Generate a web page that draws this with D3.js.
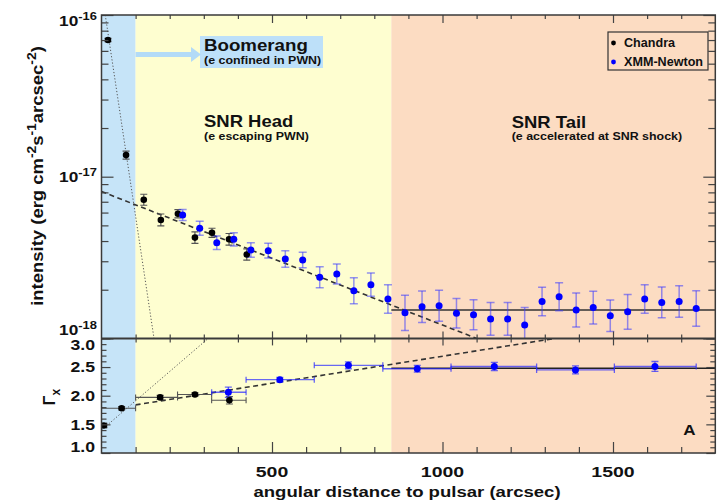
<!DOCTYPE html>
<meta charset="utf-8">
<style>
body { margin: 0; background: #fff; }
svg text { font-family: "Liberation Sans", Arial, Helvetica, sans-serif; font-weight: bold; fill: #111; }
</style>
<body>
<script src="https://d3js.org/d3.v7.min.js"></script>
<script>
// ---- values ----
// region edges along the x axis (arcsec): Boomerang | SNR head | SNR tail
var regionEdges = [0, 100, 850, 1800];

// top panel: surface brightness
var chandraDist = [19, 72, 124, 174, 224, 274, 324, 374, 426];
var chandraInt  = [7.0e-17, 1.36e-17, 7.2e-18, 5.4e-18, 5.9e-18, 4.2e-18, 4.5e-18, 4.1e-18, 3.3e-18];
var chandraErr  = [0.01, 0.025, 0.034, 0.037, 0.025, 0.035, 0.028, 0.036, 0.035]; // dex

var xmmDist = [238, 288, 338, 388, 438, 489, 539, 590, 640, 690, 740, 790, 840, 890, 940, 990,
               1041, 1091, 1141, 1191, 1241, 1292, 1342, 1392, 1442, 1492, 1543, 1593, 1643, 1694, 1744];
var xmmInt  = [5.8e-18, 4.8e-18, 3.9e-18, 4.1e-18, 3.52e-18, 3.49e-18, 3.1e-18, 3.05e-18, 2.39e-18, 2.5e-18,
               1.97e-18, 2.15e-18, 1.75e-18, 1.44e-18, 1.57e-18, 1.59e-18, 1.43e-18, 1.4e-18, 1.32e-18, 1.32e-18,
               1.21e-18, 1.69e-18, 1.81e-18, 1.5e-18, 1.55e-18, 1.38e-18, 1.46e-18, 1.75e-18, 1.67e-18, 1.69e-18, 1.53e-18];
var xmmErr  = [0.034, 0.043, 0.042, 0.041, 0.045, 0.045, 0.051, 0.048, 0.065, 0.062, 0.08, 0.072, 0.088, 0.109,
               0.097, 0.096, 0.091, 0.093, 0.101, 0.101, 0.109, 0.088, 0.087, 0.105, 0.101, 0.097, 0.107, 0.088,
               0.095, 0.097, 0.11];

// fitted models in the top panel (end points)
var fitBoomerang = [[11, 1e-16], [154, 1e-18]];
var fitHead      = [[0, 8.1e-18], [1100, 1e-18]];
var fitTail      = [[850, 1.5e-18], [1800, 1.5e-18]];

// bottom panel: photon index
var chandraGDist = [7, 59, 172, 274, 375];
var chandraGBin  = [[0, 15], [0, 100], [100, 223], [223, 323], [323, 424]];
var chandraG     = [1.48, 1.78, 1.97, 2.02, 1.92];
var chandraGErr  = [0.03, 0.03, 0.035, 0.03, 0.064];

var xmmGDist = [372, 523, 724, 926, 1152, 1390, 1623];
var xmmGBin  = [[323, 424], [424, 624], [624, 825], [825, 1025], [1025, 1276], [1276, 1504], [1504, 1744]];
var xmmG     = [2.06, 2.28, 2.53, 2.47, 2.51, 2.45, 2.51];
var xmmGErr  = [0.09, 0.04, 0.06, 0.06, 0.07, 0.07, 0.087];

var gFitBoomerang = [[0, 1.40], [313, 3.0]];
var gFitHead      = [[100, 1.84], [1330, 3.0]];
var gFitTail      = [[850, 2.48], [1800, 2.48]];

var xTickLabels = [500, 1000, 1500];
var yTickLabels = [1e-16, 1e-17, 1e-18];
var gTickLabels = [3.0, 2.5, 2.0, 1.5, 1.0];

// ---- layout ----
var L = 101.5, R = 715.3, T = 15, MID = 338.4, B = 453;

var x  = d3.scaleLinear().domain([0, 1800]).range([L, R]);
var yI = d3.scaleLog().domain([1e-18, 1e-16]).range([MID, T]);
var yG = d3.scaleLinear().domain([1, 3]).range([B, MID]);

var svg = d3.select("body").append("svg").attr("width", 718).attr("height", 501);

var defs = svg.append("defs");
defs.append("clipPath").attr("id", "clipTop").append("rect")
    .attr("x", L).attr("y", T).attr("width", R - L).attr("height", MID - T);
defs.append("clipPath").attr("id", "clipBot").append("rect")
    .attr("x", L).attr("y", MID).attr("width", R - L).attr("height", B - MID);

// text helper: the figure's lettering is a bit wider than Arial, so stretch it horizontally
function addText(g, px, py, str, size, sx, anchor, rot) {
  var t = g.append("text")
      .attr("transform", "translate(" + px + "," + py + ")" + (rot ? " rotate(" + rot + ")" : "") + " scale(" + sx + ",1)")
      .attr("text-anchor", anchor || "start")
      .style("font-size", size + "px");
  var shift = 0;
  str.split(/(\^\{[^}]*\}|_\{[^}]*\})/).forEach(function(p) {
    if (!p) return;
    var target = 0, txt = p, fs = size;
    if (p[0] == "^") { target = -0.4 * size; txt = p.slice(2, -1); fs = size * 0.75; }
    else if (p[0] == "_") { target = 0.3 * size; txt = p.slice(2, -1); fs = size * 0.75; }
    t.append("tspan").attr("dy", target - shift).style("font-size", fs + "px").text(txt);
    shift = target;
  });
  return t;
}

// background regions
var regionFill = ["#c6e4f8", "#fefed0", "#fcdcc2"];
svg.selectAll("rect.region").data(d3.range(3)).enter().append("rect")
    .attr("class", "region")
    .attr("x", function(i) { return x(regionEdges[i]); })
    .attr("y", T)
    .attr("width", function(i) { return x(regionEdges[i + 1]) - x(regionEdges[i]); })
    .attr("height", B - T)
    .attr("fill", function(i) { return regionFill[i]; });

// Boomerang label box + arrow
svg.append("rect").attr("x", 200).attr("y", 36).attr("width", 123).attr("height", 32).attr("fill", "#bde0f9");
svg.append("line").attr("x1", x(regionEdges[1])).attr("x2", 193).attr("y1", 54.5).attr("y2", 54.5)
    .attr("stroke", "#b3dbf7").attr("stroke-width", 5);
svg.append("path").attr("d", "M191,47 L201,54.5 L191,62 Z").attr("fill", "#b3dbf7");

addText(svg, 204, 50.7, "Boomerang", 17, 1.1);
addText(svg, 204, 64.3, "(e confined in PWN)", 11, 1.13);
addText(svg, 204, 126.7, "SNR Head", 16.5, 1.12);
addText(svg, 204, 139.8, "(e escaping PWN)", 11, 1.13);
addText(svg, 511.7, 127.5, "SNR Tail", 16.5, 1.12);
addText(svg, 511.7, 140.3, "(e accelerated at SNR shock)", 11, 1.13);

// ---- top panel ----
var topG = svg.append("g").attr("clip-path", "url(#clipTop)");
var lineI = d3.line().x(function(d) { return x(d[0]); }).y(function(d) { return yI(d[1]); });

topG.append("path").datum(fitBoomerang).attr("d", lineI).attr("fill", "none")
    .attr("stroke", "#555").attr("stroke-width", 1).attr("stroke-dasharray", "1.2,2");
topG.append("path").datum(fitHead).attr("d", lineI).attr("fill", "none")
    .attr("stroke", "#333").attr("stroke-width", 1.6).attr("stroke-dasharray", "5,3.5");
topG.append("path").datum(fitTail).attr("d", lineI).attr("fill", "none")
    .attr("stroke", "#333").attr("stroke-width", 1.4);

function vErrLog(g, xs, ys, es, color, width, cap) {
  xs.forEach(function(d, i) {
    var cx = x(d), y1 = yI(ys[i] * Math.pow(10, es[i])), y2 = yI(ys[i] / Math.pow(10, es[i]));
    g.append("line").attr("x1", cx).attr("x2", cx).attr("y1", y1).attr("y2", y2)
        .attr("stroke", color).attr("stroke-width", width);
    [y1, y2].forEach(function(yy) {
      g.append("line").attr("x1", cx - cap).attr("x2", cx + cap).attr("y1", yy).attr("y2", yy)
          .attr("stroke", color).attr("stroke-width", width);
    });
  });
}

vErrLog(topG, chandraDist, chandraInt, chandraErr, "#555", 1.2, 3.5);
vErrLog(topG, xmmDist, xmmInt, xmmErr, "rgba(60,60,255,0.55)", 1.5, 4);

topG.selectAll("circle.ch").data(chandraDist).enter().append("circle")
    .attr("cx", function(d) { return x(d); })
    .attr("cy", function(d, i) { return yI(chandraInt[i]); })
    .attr("r", 3.3).attr("fill", "#000");
topG.selectAll("circle.xmm").data(xmmDist).enter().append("circle")
    .attr("cx", function(d) { return x(d); })
    .attr("cy", function(d, i) { return yI(xmmInt[i]); })
    .attr("r", 3.5).attr("fill", "#0000ff");

// ---- bottom panel ----
var botG = svg.append("g").attr("clip-path", "url(#clipBot)");
var lineG = d3.line().x(function(d) { return x(d[0]); }).y(function(d) { return yG(d[1]); });

botG.append("path").datum(gFitBoomerang).attr("d", lineG).attr("fill", "none")
    .attr("stroke", "#555").attr("stroke-width", 1).attr("stroke-dasharray", "1.2,2");
botG.append("path").datum(gFitHead).attr("d", lineG).attr("fill", "none")
    .attr("stroke", "#333").attr("stroke-width", 1.6).attr("stroke-dasharray", "5,3.5");
botG.append("path").datum(gFitTail).attr("d", lineG).attr("fill", "none")
    .attr("stroke", "#222").attr("stroke-width", 1.4);

function errG(g, xs, bins, ys, es, color, width) {
  xs.forEach(function(d, i) {
    var cx = x(d), cy = yG(ys[i]), xa = x(bins[i][0]), xb = x(bins[i][1]);
    var ya = yG(ys[i] + es[i]), yb = yG(ys[i] - es[i]);
    g.append("line").attr("x1", xa).attr("x2", xb).attr("y1", cy).attr("y2", cy)
        .attr("stroke", color).attr("stroke-width", width);
    [xa, xb].forEach(function(xx) {
      g.append("line").attr("x1", xx).attr("x2", xx).attr("y1", cy - 3).attr("y2", cy + 3)
          .attr("stroke", color).attr("stroke-width", width);
    });
    g.append("line").attr("x1", cx).attr("x2", cx).attr("y1", ya).attr("y2", yb)
        .attr("stroke", color).attr("stroke-width", width);
    [ya, yb].forEach(function(yy) {
      g.append("line").attr("x1", cx - 3.5).attr("x2", cx + 3.5).attr("y1", yy).attr("y2", yy)
          .attr("stroke", color).attr("stroke-width", width);
    });
  });
}

errG(botG, chandraGDist, chandraGBin, chandraG, chandraGErr, "#555", 1.1);
errG(botG, xmmGDist, xmmGBin, xmmG, xmmGErr, "rgba(40,40,255,0.7)", 1.3);

botG.selectAll("circle.ch").data(chandraGDist).enter().append("circle")
    .attr("cx", function(d) { return x(d); })
    .attr("cy", function(d, i) { return yG(chandraG[i]); })
    .attr("r", 3.3).attr("fill", "#000");
botG.selectAll("circle.xmm").data(xmmGDist).enter().append("circle")
    .attr("cx", function(d) { return x(d); })
    .attr("cy", function(d, i) { return yG(xmmG[i]); })
    .attr("r", 3.5).attr("fill", "#0000ff");

// ---- ticks ----
function ticks(axisFn, scale, vals, size, tr) {
  var g = svg.append("g").attr("transform", tr)
      .call(axisFn(scale).tickValues(vals).tickSize(size).tickFormat(""));
  g.select(".domain").remove();
  g.selectAll("line").attr("stroke", "#444").attr("stroke-width", 1.2);
}

var xMinor = d3.range(100, 1800, 100).filter(function(v) { return v % 500; });
var xMajor = xTickLabels;
ticks(d3.axisBottom, x, xMinor, 4, "translate(0," + T + ")");
ticks(d3.axisBottom, x, xMajor, 8, "translate(0," + T + ")");
ticks(d3.axisBottom, x, xMinor, 4, "translate(0," + MID + ")");
ticks(d3.axisTop, x, xMinor, 4, "translate(0," + MID + ")");
ticks(d3.axisBottom, x, xMajor, 7, "translate(0," + MID + ")");
ticks(d3.axisTop, x, xMajor, 7, "translate(0," + MID + ")");
ticks(d3.axisTop, x, xMinor, 6, "translate(0," + B + ")");
ticks(d3.axisTop, x, xMajor, 11, "translate(0," + B + ")");

var logMinor = [];
[1e-18, 1e-17].forEach(function(dec) { d3.range(2, 10).forEach(function(k) { logMinor.push(k * dec); }); });
ticks(d3.axisRight, yI, logMinor, 7, "translate(" + L + ",0)");
ticks(d3.axisRight, yI, yTickLabels, 12, "translate(" + L + ",0)");
ticks(d3.axisLeft, yI, logMinor, 7, "translate(" + R + ",0)");
ticks(d3.axisLeft, yI, yTickLabels, 12, "translate(" + R + ",0)");

var gMinor = d3.range(11, 30).filter(function(k) { return k % 5; }).map(function(k) { return k / 10; });
ticks(d3.axisRight, yG, gMinor, 5, "translate(" + L + ",0)");
ticks(d3.axisRight, yG, gTickLabels, 9, "translate(" + L + ",0)");
ticks(d3.axisLeft, yG, gMinor, 5, "translate(" + R + ",0)");
ticks(d3.axisLeft, yG, gTickLabels, 9, "translate(" + R + ",0)");

// frame
svg.append("rect").attr("x", L).attr("y", T).attr("width", R - L).attr("height", B - T)
    .attr("fill", "none").attr("stroke", "#3a3a3a").attr("stroke-width", 1.5);
svg.append("line").attr("x1", L).attr("x2", R).attr("y1", MID).attr("y2", MID)
    .attr("stroke", "#3a3a3a").attr("stroke-width", 2);

// ---- tick labels ----
xTickLabels.forEach(function(v) { addText(svg, x(v), 477, String(v), 15, 1.3, "middle"); });

var yLabBase = [26, 182, 335];
yTickLabels.forEach(function(v, i) {
  addText(svg, 97, yLabBase[i], "10^{" + Math.round(Math.log10(v)) + "}", 15, 1.15, "end");
});

gTickLabels.forEach(function(v) {
  var by = Math.max(350, Math.min(452, yG(v) + 5.3));
  addText(svg, 95, by, v.toFixed(1), 14.5, 1.22, "end");
});

// axis titles
addText(svg, 407, 496.7, "angular distance to pulsar (arcsec)", 14.5, 1.28, "middle");
addText(svg, 43, 176, "intensity (erg cm^{-2}s^{-1}arcsec^{-2})", 16.5, 1.12, "middle", -90);
addText(svg, 55, 397, "\u0393_{x}", 16, 1.0, "middle", -90);
addText(svg, 683.3, 435, "A", 15.5, 1.1);

// ---- legend ----
svg.append("rect").attr("x", 608).attr("y", 32).attr("width", 100).attr("height", 38)
    .attr("fill", "none").attr("stroke", "#333").attr("stroke-width", 1.2);
svg.append("circle").attr("cx", 613.5).attr("cy", 43).attr("r", 2.4).attr("fill", "#000");
svg.append("circle").attr("cx", 613.5).attr("cy", 62).attr("r", 2.4).attr("fill", "#0000ff");
addText(svg, 624, 47, "Chandra", 12, 1.05);
addText(svg, 624, 66, "XMM-Newton", 12, 1.05);
</script>
</body>
